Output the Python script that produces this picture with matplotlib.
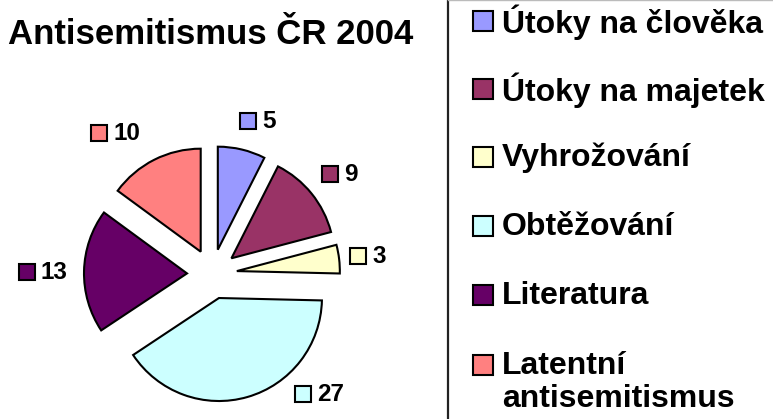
import matplotlib
matplotlib.use("Agg")
import matplotlib.pyplot as plt
from matplotlib.patches import Rectangle
import numpy as np

plt.rcParams['font.family'] = ['Liberation Sans', 'DejaVu Sans']

title = "Antisemitismus ČR 2004"
categories = ["Útoky na člověka", "Útoky na majetek", "Vyhrožování",
              "Obtěžování", "Literatura", "Latentní\nantisemitismus"]
values = [5, 9, 3, 27, 13, 10]
colors = ["#9999FF", "#993366", "#FFFFCC", "#CCFFFF", "#660066", "#FF8080"]

W, H = 773, 419
fig = plt.figure(figsize=(W / 100, H / 100), dpi=100)

# pie axes in pixel-scaled coordinates
R = 103.0            # pixel radius
cx, cy = 212.0, 419 - 274.0
axw = 445.0
ax = fig.add_axes([0, 0, axw / W, 1])
ax.pie(values, colors=colors, startangle=90, counterclock=False,
       explode=[25 / R] * len(values), radius=1.0,
       wedgeprops=dict(edgecolor="black", linewidth=1.5))
ax.set_aspect('auto')
ax.set_xlim(-cx / R, (axw - cx) / R)
ax.set_ylim(-cy / R, (H - cy) / R)
ax.axis('off')

# data label positions (pixel coords of square's left edge, vertical centre)
label_pos = [(240, 121), (322, 174), (350, 256), (295, 394), (19, 272), (91, 133)]
sq = 16
for (px, py), v, c in zip(label_pos, values, colors):
    x0 = (px - cx) / R
    y0 = ((H - py) - cy) / R
    ax.add_patch(Rectangle((x0, y0 - sq / 2 / R), sq / R, sq / R,
                           facecolor=c, edgecolor="black", linewidth=1.5,
                           clip_on=False))
    ax.text(x0 + (sq + 6) / R, y0, str(v), fontsize=17.5, fontweight='bold',
            va='center', ha='left')

fig.text(8 / W, 1 - 35 / H, title, fontsize=25, fontweight='bold',
         va='center', ha='left')

# legend box
fig.add_artist(plt.Line2D([448 / W, 448 / W], [0, 1], color="#222222", lw=1.6))
fig.add_artist(plt.Line2D([448 / W, 1], [1 - 0.5 / H, 1 - 0.5 / H],
                          color="#BBBBBB", lw=1.0))
ys = [21, 89, 157, 226, 295, 365]
for y, c, lab in zip(ys, colors, categories):
    fig.add_artist(Rectangle((473 / W, 1 - (y + 10) / H), 20 / W, 20 / H,
                             facecolor=c, edgecolor="black", linewidth=1.5,
                             transform=fig.transFigure))
    lines = lab.split("\n")
    for i, ln in enumerate(lines):
        fig.text(502 / W, 1 - (y + 1 + i * 33) / H, ln, fontsize=23,
                 fontweight='bold', va='center', ha='left')

fig.savefig("out.png", dpi=100)
